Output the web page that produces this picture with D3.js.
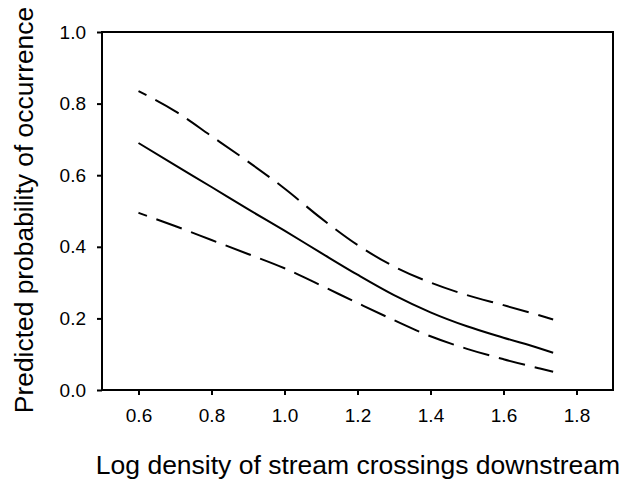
<!DOCTYPE html>
<html>
<head>
<meta charset="utf-8">
<script src="https://cdn.jsdelivr.net/npm/d3@7"></script>
<style>
  body { margin: 0; background: #fff; }
  svg { display: block; font-family: Arial, "Liberation Sans", sans-serif; }
</style>
</head>
<body>
<svg id="chart" width="625" height="481"></svg>
<script>
const density = [0.6, 0.7, 0.8, 0.9, 1.0, 1.1, 1.2, 1.3, 1.4, 1.5, 1.6, 1.7, 1.736];
// predicted probability (solid) and confidence bounds (dashed)
const predicted = [0.690, 0.628, 0.567, 0.505, 0.445, 0.383, 0.322, 0.265, 0.217, 0.178, 0.146, 0.116, 0.104];
const upperCI = [0.835, 0.779, 0.709, 0.638, 0.563, 0.480, 0.405, 0.345, 0.300, 0.265, 0.237, 0.208, 0.197];
const lowerCI = [0.495, 0.458, 0.419, 0.380, 0.340, 0.292, 0.243, 0.195, 0.150, 0.115, 0.086, 0.060, 0.051];

const xTicks = [0.6, 0.8, 1.0, 1.2, 1.4, 1.6, 1.8];
const yTicks = [0.0, 0.2, 0.4, 0.6, 0.8, 1.0];

(function () {
  const svg = d3.select('#chart');
  const margin = { top: 32, right: 12, bottom: 91, left: 102 };
  const width = 625 - margin.left - margin.right;
  const height = 481 - margin.top - margin.bottom;

  const x = d3.scaleLinear().domain([0.5, 1.9]).range([0, width]);
  const y = d3.scaleLinear().domain([0, 1]).range([height, 0]);

  const g = svg.append('g').attr('transform', `translate(${margin.left},${margin.top})`);

  // Axes (ticks only, frame drawn separately)
  const xAxis = g.append('g')
    .attr('transform', `translate(0,${height})`)
    .call(d3.axisBottom(x).tickValues(xTicks).tickFormat(d3.format('.1f')).tickSize(5).tickPadding(14));
  const yAxis = g.append('g')
    .call(d3.axisLeft(y).tickValues(yTicks).tickFormat(d3.format('.1f')).tickSize(5).tickPadding(11));

  [xAxis, yAxis].forEach(a => {
    a.select('.domain').remove();
    a.selectAll('line').attr('stroke', '#000').attr('stroke-width', 2);
    a.selectAll('text').attr('fill', '#000').attr('font-size', 19)
      .attr('font-family', 'Arial, "Liberation Sans", sans-serif');
  });

  // Frame
  g.append('rect')
    .attr('x', 0).attr('y', 0)
    .attr('width', width).attr('height', height)
    .attr('fill', 'none')
    .attr('stroke', '#000')
    .attr('stroke-width', 2);

  const series = [
    { values: upperCI, dash: '27,10', offset: 18 },
    { values: predicted, dash: null, offset: 0 },
    { values: lowerCI, dash: '27,10', offset: 18 }
  ];

  const line = d3.line()
    .x(d => x(d[0]))
    .y(d => y(d[1]))
    .curve(d3.curveMonotoneX);

  g.selectAll('path.curve')
    .data(series)
    .join('path')
    .attr('class', 'curve')
    .attr('d', s => line(density.map((v, i) => [v, s.values[i]])))
    .attr('fill', 'none')
    .attr('stroke', '#000')
    .attr('stroke-width', 2)
    .attr('stroke-dasharray', s => s.dash)
    .attr('stroke-dashoffset', s => s.offset);

  // Axis titles
  svg.append('text')
    .attr('x', 358)
    .attr('y', 474)
    .attr('text-anchor', 'middle')
    .attr('font-size', 26.5)
    .attr('fill', '#000')
    .text('Log density of stream crossings downstream');

  svg.append('text')
    .attr('transform', 'translate(33,210) rotate(-90)')
    .attr('text-anchor', 'middle')
    .attr('font-size', 26.4)
    .attr('fill', '#000')
    .text('Predicted probability of occurrence');
})();
</script>
</body>
</html>
